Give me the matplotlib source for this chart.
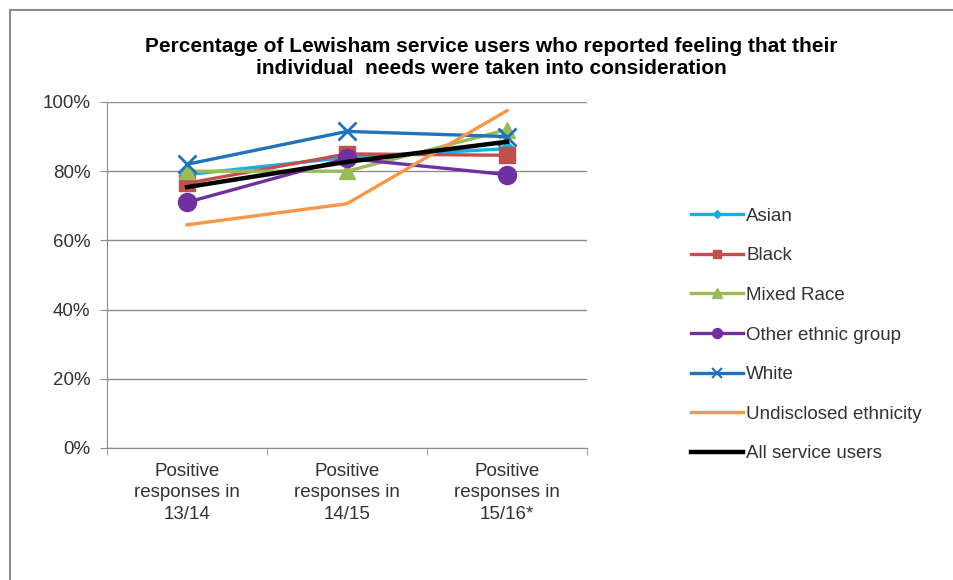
import matplotlib.pyplot as plt
from matplotlib.lines import Line2D
from matplotlib.patches import Rectangle

categories = ["Positive\nresponses in\n13/14", "Positive\nresponses in\n14/15", "Positive\nresponses in\n15/16*"]
asian = [79, 84, 86.5]
black = [76.5, 85, 84.6]
mixed = [80, 80, 92]
other = [71, 83.7, 79]
white = [82, 91.5, 90]
undisclosed = [64.5, 70.6, 97.5]
all_users = [75.4, 82.7, 88.5]

series = [
    ("Asian", asian, "#1CADE4", "D", 8),
    ("Black", black, "#C0504D", "s", 11),
    ("Mixed Race", mixed, "#9BBB59", "^", 12),
    ("Other ethnic group", other, "#7030A0", "o", 13),
    ("White", white, "#1F72BB", "x", 13),
    ("Undisclosed ethnicity", undisclosed, "#F79646", None, 0),
    ("All service users", all_users, "#000000", None, 0),
]

plt.rcParams["font.family"] = ["Liberation Sans", "DejaVu Sans"]

fig = plt.figure(figsize=(9.54, 5.8), dpi=100)
fig.patches.append(Rectangle((10 / 954, -0.1), 1.0, 1.0 - 10 / 580 + 0.1,
                             transform=fig.transFigure, fill=False,
                             edgecolor="#8c8c8c", linewidth=1.5))

ax = fig.add_axes([107 / 954, 1 - 448 / 580, 480 / 954, 346 / 580])
x = list(range(len(categories)))

handles = []
for name, vals, color, marker, ms in series:
    lw = 3.2 if name == "All service users" else 2.4
    ax.plot(x, [v / 100 for v in vals], color=color, linewidth=lw,
            marker=marker, markersize=ms, markeredgewidth=2 if marker == "x" else 1,
            markeredgecolor=color, zorder=3)
    handles.append(Line2D([0], [0], color=color, linewidth=lw, marker=marker,
                          markersize=ms * 0.55 if marker else 0,
                          markeredgecolor=color, markeredgewidth=1.5 if marker == "x" else 1))

ax.set_xlim(-0.5, 2.5)
ax.set_ylim(0, 1.0)
ax.set_yticks([0, 0.2, 0.4, 0.6, 0.8, 1.0])
ax.set_yticklabels(["0%", "20%", "40%", "60%", "80%", "100%"], fontsize=13.5, color="#333333")
ax.yaxis.grid(True, color="#8c8c8c", linewidth=1)
ax.set_axisbelow(True)
ax.set_xticks(x)
ax.set_xticklabels(categories, fontsize=13.5, color="#333333", linespacing=1.32)
ax.set_xticks([-0.5, 0.5, 1.5, 2.5], minor=True)
ax.tick_params(axis="x", which="major", length=0, pad=11)
ax.tick_params(axis="x", which="minor", length=5, color="#8c8c8c")
ax.tick_params(axis="y", length=5, color="#8c8c8c", pad=7)
for s in ["top", "right"]:
    ax.spines[s].set_visible(False)
for s in ["left", "bottom"]:
    ax.spines[s].set_color("#8c8c8c")

fig.text(491 / 954, 1 - 57.5 / 580,
         "Percentage of Lewisham service users who reported feeling that their\nindividual  needs were taken into consideration",
         ha="center", va="center", fontsize=15, fontweight="bold", linespacing=1.25)

fig.legend(handles, [s[0] for s in series], loc="center left",
           bbox_to_anchor=(674 / 954, 1 - 335 / 580), frameon=False,
           fontsize=13.5, labelspacing=1.2, handlelength=2.8, handletextpad=0.15,
           labelcolor="#333333")

fig.savefig("out.png", dpi=100)
